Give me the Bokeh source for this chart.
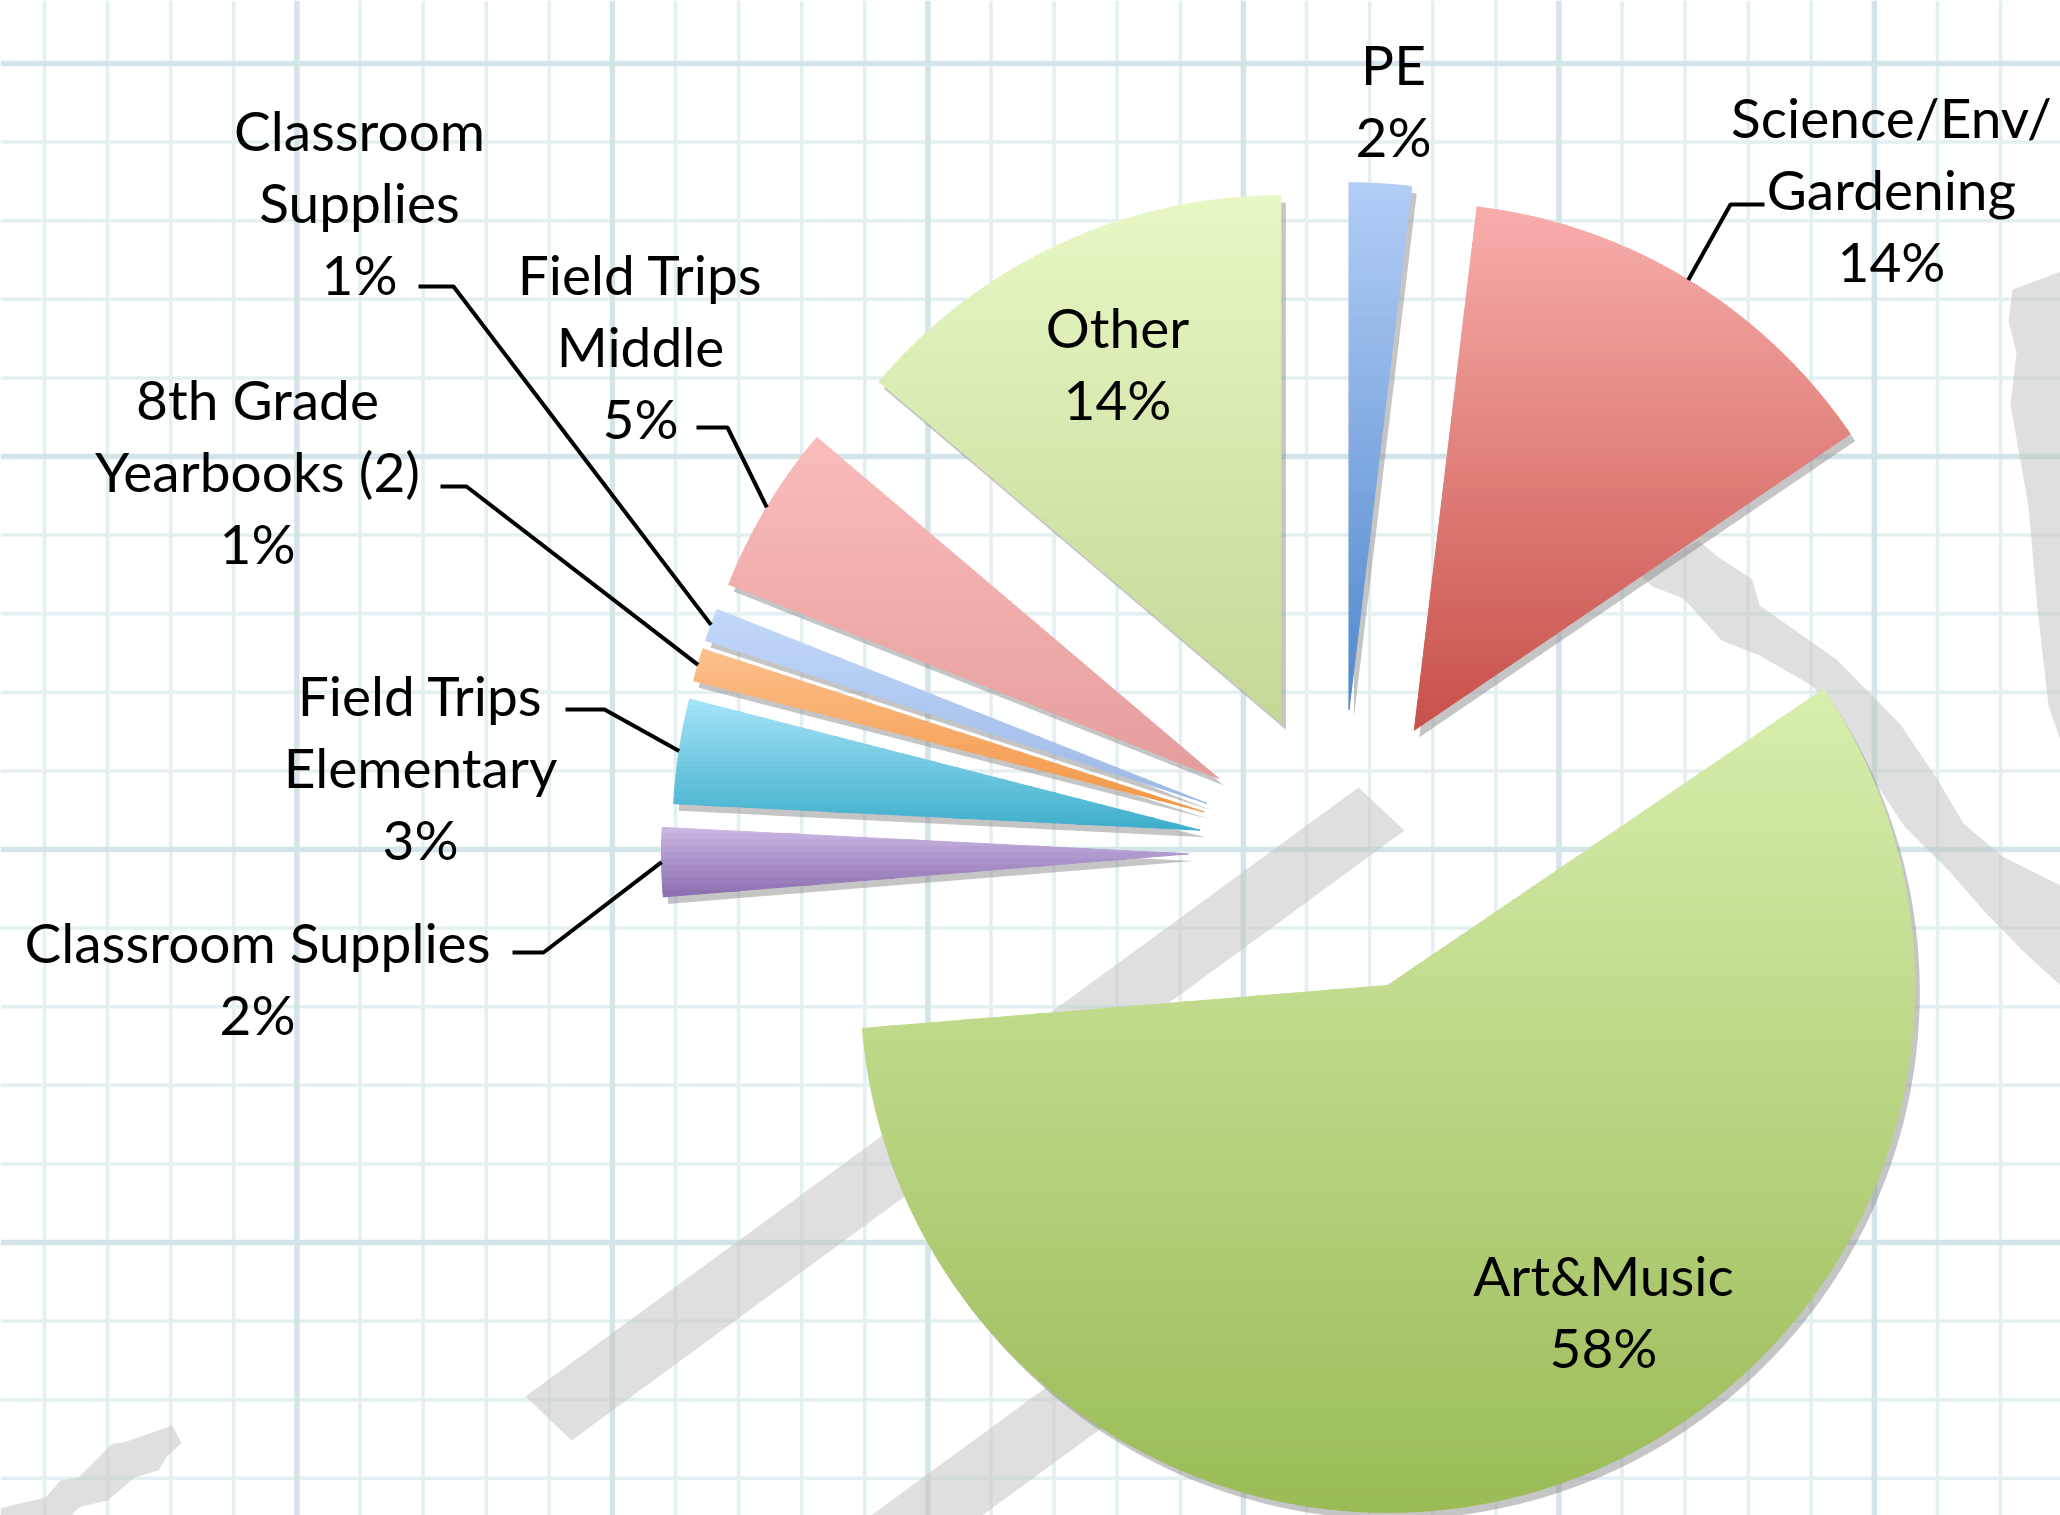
import numpy as np
from bokeh.plotting import figure
from bokeh.models import Range1d, ColumnDataSource
from bokeh.embed import file_html
from bokeh.resources import INLINE
from bokeh.core.properties import value

# ---------------- data ----------------
categories = ["PE", "Science/Env/\nGardening", "Art&Music", "Classroom Supplies",
              "Field Trips\nElementary", "8th Grade\nYearbooks (2)", "Classroom\nSupplies",
              "Field Trips\nMiddle", "Other"]
shares = [1.9, 13.6, 58.2, 2.1, 3.2, 1.0, 1.0, 5.2, 13.8]

# ---------------- styles / layout ----------------
top_colors = ["#B3CDF6", "#F8AEAB", "#D8EEAE", "#CBB8E3", "#A5E4F8",
              "#FCC08C", "#C3D8FA", "#F9BCBB", "#E7F8C5"]
bottom_colors = ["#5088CC", "#C8504A", "#9BBB57", "#8A6DB0", "#3FAECB",
                 "#F39645", "#9DB9E6", "#E59D9C", "#C4D896"]
explode = [142, 142, 142, 152, 142, 142, 142, 142, 142]
label_pos = [(1393, 63), (1891, 116), (1603, 1274), (257, 941), (420, 694),
             (257, 398), (359, 129), (640, 273), (1117, 326)]
leader_pts = {1: [(1764, 204), (1730, 204)], 3: [(512, 952), (543, 952)],
              4: [(565, 709), (604, 709)], 5: [(440, 486), (466, 486)],
              6: [(418, 286), (453, 286)], 7: [(696, 427), (727, 427)]}

W, H = 2060, 1515
CX, CY, R = 1340, 851, 527
LINE_GAP = 72
FONT = "Lato"

p = figure(width=W, height=H, x_range=Range1d(0, W), y_range=Range1d(H, 0),
           output_backend="svg", toolbar_location=None, min_border=0,
           x_axis_location=None, y_axis_location=None, outline_line_color=None,
           background_fill_color="white", border_fill_color="white")
p.grid.visible = False

# ---------------- graph paper background ----------------
vx = [44 + 63.1 * k for k in range(33) if 44 + 63.1 * k < W]
hy = [63 + 78.6 * k for k in range(20) if 63 + 78.6 * k < H]
thin_v = [x for k, x in enumerate(vx) if k % 5 != 4]
thick_v = [x for k, x in enumerate(vx) if k % 5 == 4]
thin_h = [y for k, y in enumerate(hy) if k % 5 != 0]
thick_h = [y for k, y in enumerate(hy) if k % 5 == 0]
p.segment(x0=thin_v, y0=[0] * len(thin_v), x1=thin_v, y1=[H] * len(thin_v),
          line_color="#E4EFF2", line_width=3.5)
p.segment(x0=[0] * len(thin_h), y0=thin_h, x1=[W] * len(thin_h), y1=thin_h,
          line_color="#E4EFF2", line_width=3.5)
p.segment(x0=thick_v, y0=[0] * len(thick_v), x1=thick_v, y1=[H] * len(thick_v),
          line_color="#D3E5E8", line_width=5.5)
p.segment(x0=[0] * len(thick_h), y0=thick_h, x1=[W] * len(thick_h), y1=thick_h,
          line_color="#D3E5E8", line_width=5.5)

# ---------------- watermark silhouettes ----------------
u = np.array([0.807, -0.591])
b2a, b2b = np.array([1029, 1399]), np.array([1080, 1443])
band2 = [b2a - 300 * u, b2a + 400 * u, b2b + 400 * u, b2b - 300 * u]
deco = [
    [(525, 1396), (571, 1440), (1404, 830), (1358, 787)],
    [tuple(q) for q in band2],
    [(1640, 575), (1698, 540), (1717, 556), (1752, 579), (1759, 605), (1782, 621),
     (1836, 659), (1900, 724), (1937, 779), (1963, 823), (2002, 856), (2060, 885),
     (2060, 985), (2022, 950), (1983, 910), (1950, 872), (1904, 826), (1860, 760),
     (1813, 686), (1759, 655), (1721, 640), (1683, 598), (1652, 586)],
    [(2012, 289), (2060, 271), (2060, 740), (2048, 705), (2037, 608), (2028, 506),
     (2010, 404), (2016, 353), (2008, 320)],
    [(0, 1515), (0, 1508), (11, 1505), (45, 1497), (60, 1480), (78, 1477), (112, 1443),
     (123, 1442), (172, 1425), (181, 1443), (167, 1455), (158, 1470), (134, 1477),
     (107, 1500), (94, 1503), (78, 1507), (71, 1515)],
]
p.patches(xs=[[q[0] for q in d] for d in deco], ys=[[q[1] for q in d] for d in deco],
          fill_color="#C4C4C4", fill_alpha=0.55, line_color=None)


# ---------------- pie geometry ----------------
def hex2rgb(h):
    h = h.lstrip("#")
    return np.array([int(h[i:i + 2], 16) for i in (0, 2, 4)], dtype=float)


def lerp_hex(a, b, t):
    c = hex2rgb(a) * (1 - t) + hex2rgb(b) * t
    return "#%02x%02x%02x" % tuple(int(round(v)) for v in c)


def clip_half(pts, f):
    out = []
    n = len(pts)
    for i in range(n):
        P, Q = pts[i], pts[(i + 1) % n]
        fp, fq = f(P), f(Q)
        if fp >= 0:
            out.append(P)
        if (fp >= 0) != (fq >= 0):
            t = fp / (fp - fq)
            out.append((P[0] + t * (Q[0] - P[0]), P[1] + t * (Q[1] - P[1])))
    return out


total = float(sum(shares))
pcts = [100.0 * s / total for s in shares]
start = 90.0
slices = []
for i, s in enumerate(shares):
    span = 360.0 * s / total
    a0, a1 = start, start - span
    start = a1
    mid = np.radians((a0 + a1) / 2)
    ax = CX + explode[i] * np.cos(mid)
    ay = CY - explode[i] * np.sin(mid)
    th = np.radians(np.linspace(a0, a1, max(8, int(span * 2))))
    poly = [(ax, ay)] + [(ax + R * np.cos(t), ay - R * np.sin(t)) for t in th]
    tip_arc = (ax + R * np.cos(mid), ay - R * np.sin(mid))
    slices.append((poly, tip_arc))

# shadows
sh_xs, sh_ys = [], []
for poly, _ in slices:
    sh_xs.append([q[0] + 5 for q in poly])
    sh_ys.append([q[1] + 7 for q in poly])
p.patches(xs=sh_xs, ys=sh_ys, fill_color="#8C8C8C", fill_alpha=0.5, line_color=None)

# gradient-filled slices (horizontal bands)
gx, gy, gc = [], [], []
for i, (poly, _) in enumerate(slices):
    ys = [q[1] for q in poly]
    ytop, ybot = min(ys), max(ys)
    n = max(6, int((ybot - ytop) / 6))
    h = (ybot - ytop) / n
    for k in range(n):
        y0, y1 = ytop + k * h, ytop + (k + 1) * h + 0.6
        part = clip_half(poly, lambda q: q[1] - y0)
        if len(part) < 3:
            continue
        part = clip_half(part, lambda q: y1 - q[1])
        if len(part) < 3:
            continue
        gx.append([q[0] for q in part])
        gy.append([q[1] for q in part])
        gc.append(lerp_hex(top_colors[i], bottom_colors[i], (k + 0.5) / n))
p.patches(xs="xs", ys="ys", fill_color="c", line_color="c", line_width=1,
          source=ColumnDataSource(dict(xs=gx, ys=gy, c=gc)))

# ---------------- leader lines ----------------
lx, ly = [], []
for i, pts in leader_pts.items():
    path = pts + [slices[i][1]]
    lx.append([q[0] for q in path])
    ly.append([q[1] for q in path])
p.multi_line(xs=lx, ys=ly, line_color="black", line_width=4)

# ---------------- labels ----------------
tx, ty, tt = [], [], []
for i, name in enumerate(categories):
    lines = name.split("\n") + ["%d%%" % round(pcts[i])]
    x0, y0 = label_pos[i]
    for j, ln in enumerate(lines):
        tx.append(x0)
        ty.append(y0 + j * LINE_GAP)
        tt.append(ln)
p.text(x="x", y="y", text="t", source=ColumnDataSource(dict(x=tx, y=ty, t=tt)),
       text_font=value(FONT), text_font_size="55px", text_color="black",
       text_align="center", text_baseline="middle")

open("out.html", "w").write(file_html(p, INLINE))
